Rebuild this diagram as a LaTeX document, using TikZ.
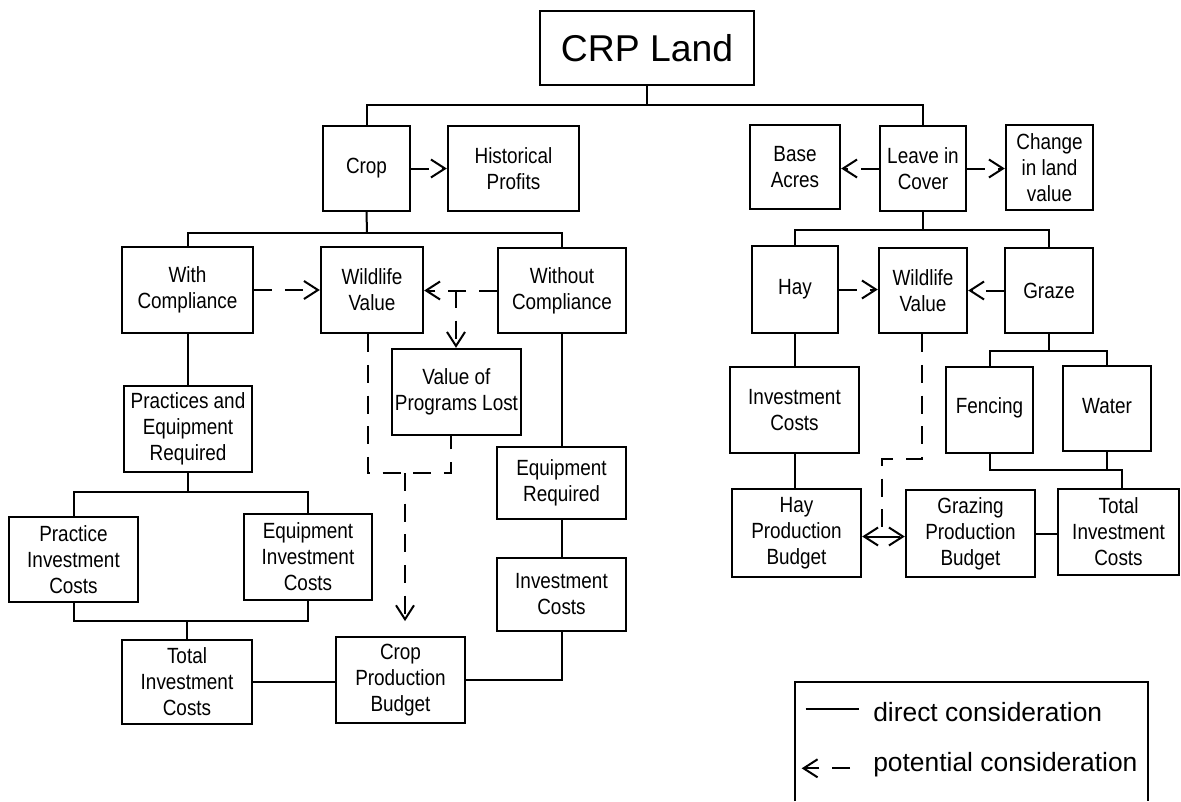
\documentclass[tikz,border=0pt]{standalone}
\usepackage{fontspec}
\setmainfont{Liberation Sans}
\newfontfamily\nar{Liberation Sans}[FakeStretch=0.86]
\usetikzlibrary{arrows.meta}
\newcommand\mybox[6]{\node[box, minimum width={(#4-#2)*0.75pt}, minimum height={(#5-#3)*0.75pt}] (#1) at ({(#2+#4)/2},{(#3+#5)/2}) {#6};}
\begin{document}
\begin{tikzpicture}[x=0.75pt,y=-0.75pt,
  box/.style={draw, line width=1.8pt, inner sep=0pt, align=center, font=\nar\fontsize{16.5}{19.5}\selectfont},
  con/.style={line width=1.5pt},
  pot/.style={line width=1.5pt, dash pattern=on 13.5pt off 9.5pt},
  tip/.style={-{Straight Barb[length=10.5pt,width=13.5pt,line width=1.5pt]}},
  leg/.style={font=\fontsize{19.8}{24}\selectfont, anchor=base west, inner sep=0pt}
]
\useasboundingbox (0,0) rectangle (1181,801);
% ---- boxes
\node[draw, line width=1.9pt, inner sep=0pt, minimum width={214*0.75pt}, minimum height={74*0.75pt},
      font=\fontsize{28}{32}\selectfont] (crp) at (647,48) {CRP Land};
\mybox{crop}{323}{126}{410}{211}{Crop}
\mybox{hist}{448}{126}{579}{211}{Historical\\Profits}
\mybox{with}{122}{247}{253}{333}{With\\Compliance}
\mybox{wl}{321}{247}{423}{333}{Wildlife\\Value}
\mybox{without}{498}{248}{626}{333}{Without\\Compliance}
\mybox{vopl}{392}{349}{521}{435}{Value of\\Programs Lost}
\mybox{prac}{124}{386}{252}{472}{Practices and\\Equipment\\Required}
\mybox{eqr}{497}{447}{626}{519}{Equipment\\Required}
\mybox{pic}{9}{517}{138}{602}{Practice\\Investment\\Costs}
\mybox{eic}{244}{514}{372}{600}{Equipment\\Investment\\Costs}
\mybox{ic}{497}{558}{626}{631}{Investment\\Costs}
\mybox{tic}{122}{640}{252}{724}{Total\\Investment\\Costs}
\mybox{cpb}{336}{637}{465}{723}{Crop\\Production\\Budget}
\mybox{base}{750}{125}{840}{209}{Base\\Acres}
\mybox{leave}{880}{126}{966}{211}{Leave in\\Cover}
\mybox{chg}{1006}{125}{1093}{210}{Change\\in land\\value}
\mybox{hay}{752}{246}{838}{333}{Hay}
\mybox{wr}{879}{248}{967}{333}{Wildlife\\Value}
\mybox{graze}{1005}{248}{1093}{333}{Graze}
\mybox{fence}{946}{367}{1033}{453}{\raisebox{7pt}{Fencing}}
\mybox{water}{1063}{366}{1151}{451}{\raisebox{4pt}{Water}}
\mybox{ictwo}{730}{367}{859}{453}{Investment\\Costs}
\mybox{hpb}{732}{489}{861}{577}{Hay\\Production\\Budget}
\mybox{gpb}{906}{490}{1035}{577}{Grazing\\Production\\Budget}
\mybox{tottwo}{1058}{489}{1179}{575}{Total\\Investment\\Costs}
% ---- junctions
\coordinate (t1) at (647,105);
\coordinate (t2) at (367,232.5);
\coordinate (t3) at (188,491.5);
\coordinate (t4) at (187,621);
\coordinate (r1) at (923,230);
\coordinate (r2) at (1050,350.5);
\coordinate (r3) at (1121.5,470);
% ---- direct connectors
\draw[con] (crp.south) -- (t1);
\draw[con] (crop.north) |- (t1) -| (leave.north);
\draw[con] (crop.south) -- (t2);
\draw[con] (with.north) |- (t2) -| (without.north);
\draw[con] (with.south) -- (with.south |- prac.north);
\draw[con] (prac.south) -- (t3);
\draw[con] (pic.north) |- (t3) -| (eic.north);
\draw[con] (pic.south) |- (t4) -| (eic.south);
\draw[con] (t4) -- (t4 |- tic.north);
\draw[con] (tic.east) -- (tic.east -| cpb.west);
\draw[con] (without.south) -- (without.south |- eqr.north);
\draw[con] (eqr.south) -- (ic.north);
\draw[con] (cpb.east) -| (ic.south);
\draw[con] (leave.south) -- (r1);
\draw[con] (hay.north) |- (r1) -| (graze.north);
\draw[con] (graze.south) -- (graze.south |- r2);
\draw[con] (fence.north) |- (r2) -| (water.north);
\draw[con] (fence.south) |- (r3) -- (r3 |- tottwo.north);
\draw[con] (water.south) -- (water.south |- r3);
\draw[con] (hay.south) -- (hay.south |- ictwo.north);
\draw[con] (ictwo.south) -- (ictwo.south |- hpb.north);
\draw[con] (gpb.east) -- (gpb.east -| tottwo.west);
% ---- potential connectors
\draw[pot,tip] (crop.east) -- (crop.east -| hist.west);
\draw[pot,tip] (with.east) -- (with.east -| wl.west);
\draw[pot,tip] (without.west) -- (without.west -| wl.east);
\coordinate (b1) at (456,290);
\draw[pot,tip] (b1) -- (b1 |- vopl.north);
\coordinate (d1) at (368,473);
\coordinate (d2) at (451,473);
\coordinate (d3) at (405,473);
\draw[pot] (wl.south -| d1) -- (d1) -- (d2) -- (vopl.south -| d2);
\draw[pot,tip,shorten >=11pt] (d3) -- (d3 |- cpb.north);
\draw[pot,tip] (leave.west) -- (leave.west -| base.east);
\draw[pot,tip] (leave.east) -- (leave.east -| chg.west);
\draw[pot,tip] (hay.east) -- (hay.east -| wr.west);
\draw[pot,tip] (graze.west) -- (graze.west -| wr.east);
\coordinate (q1) at (921.5,459);
\coordinate (q2) at (882,459);
\coordinate (q3) at (882,536.5);
\draw[pot] (wr.south -| q1) -- (q1) -- (q2) -- (q3);
\draw[pot,tip] (q3) -- (q3 -| hpb.east);
\draw[pot,tip] (q3) -- (q3 -| gpb.west);
% ---- legend
\coordinate (la) at (795,801);
\coordinate (lb) at (795,681.7);
\coordinate (lc) at (1147.7,681.7);
\coordinate (ld) at (1147.7,801);
\draw[con] (la) -- (lb) -- (lc) -- (ld);
\coordinate (s1) at (805.7,709);
\coordinate (s2) at (859,709);
\draw[con] (s1) -- (s2);
\coordinate (p1) at (850,768.3);
\coordinate (p2) at (801.7,768.3);
\draw[pot,tip] (p1) -- (p2);
\node[leg] (ldir) at (873,721.7) {direct consideration};
\node[leg] (lpot) at (873,771.7) {potential consideration};
\end{tikzpicture}
\end{document}
